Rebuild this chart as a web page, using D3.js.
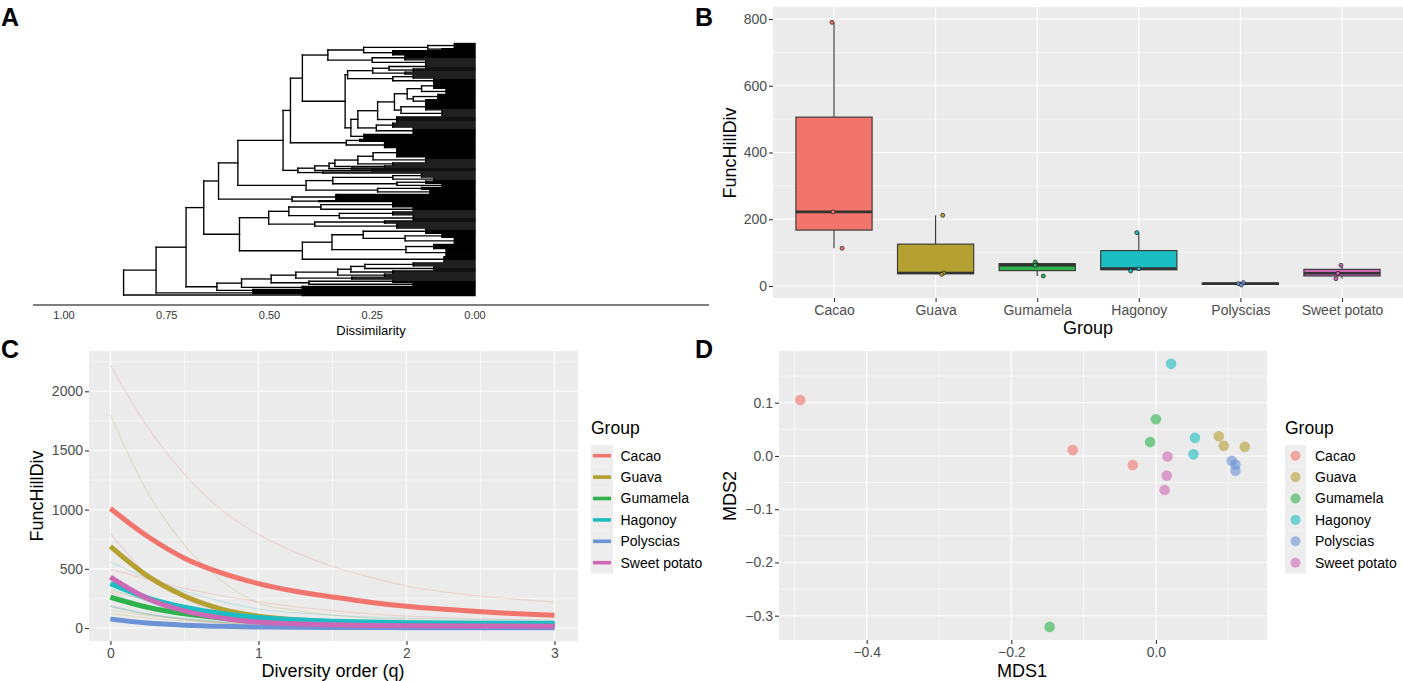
<!DOCTYPE html>
<html><head><meta charset="utf-8">
<script src="https://cdn.jsdelivr.net/npm/d3@7"></script>
<style>
html,body{margin:0;padding:0;background:#fff;}
svg{display:block;font-family:"Liberation Sans",Arial,Helvetica,sans-serif;}
</style></head><body>
<svg id="fig" width="1403" height="681"></svg>
<script>
// ---------------- DATA ----------------
const groups = ["Cacao","Guava","Gumamela","Hagonoy","Polyscias","Sweet potato"];
const groupColors = ["#F2756D","#B5A032","#2EB34C","#1BBEC3","#6B93D6","#CD68B6"];

// Panel A: dendrogram, internal node = [height, upperChild, lowerChild], cluster = [height, leafCount]
const cladeN14 = [0.358, [0.271, [0.115, [0.05, 5], [0.08, 2]], [0.2, 5]], [0.25, [0.17, 5], [0.12, 4]]];
const cladeN16 = [0.31, [0.249, [0.209, [0.12, 4], [0.15, 3]], [0.17, 3]], [0.2, [0.15, 4], [0.1, 4]]];
const cladeN21 = [0.196, [0.165, [0.13, [0.1, 6], [0.07, 5]], [0.15, [0.09, 5], [0.12, 4]]], [0.18, [0.12, 7], [0.08, 6]]];
const cladeN20 = [0.24, [0.2, 5], [0.15, 6]];
const cladeN13 = [0.313, [0.28, 3], [0.22, 6]];
const cladeN11 = [0.431, [0.39, [0.355, [0.341, [0.285, [0.248, [0.19, 9], [0.12, 5]], [0.2, 3]], [0.22, 2]], [0.3, 2]], [0.25, 2]], [0.37, 2]];
const cladeN9  = [0.411, [0.346, [0.2, [0.13, 4], [0.1, 3]], [0.19, [0.12, 3], [0.08, 3]]], [0.237, [0.13, 3], [0.11, 4]]];
const cladeN7  = [0.445, [0.338, 6], [0.38, 2]];
const cladeN5a = [0.502, [0.453, [0.375, [0.2, 5], [0.15, 4]], [0.33, [0.2, 4], [0.15, 5]]], [0.39, [0.22, 3], [0.19, 5]]];
const cladeN5b = [0.42, [0.348, [0.272, [0.12, 5], [0.17, [0.08, 4], [0.05, 6]]], [0.168, [0.1, 5], [0.07, 7]]], [0.075, 6]];
const cladeLow = [0.628, [0.568, [0.496, [0.436, [0.334, [0.302, [0.268, [0.15, 4], [0.1, 4]], [0.2, 3]], [0.22, 3]], [0.3, 3]], [0.404, [0.2, 3], [0.15, 3]]], [0.42, 3]], [0.54, 3]];
const cladeB1 = [0.54, 2];
const cladeB0 = [0.42, 2];
const cladeN19 = [0.237, cladeN21, [0.19, 6]];
const cladeN18 = [0.285, cladeN19, cladeN20];
const cladeN17 = [0.302, cladeN18, [0.27, 5]];
const cladeN15 = [0.316, cladeN16, cladeN17];
const cladeN12 = [0.420, cladeN14, cladeN15];
const cladeN10 = [0.449, cladeN12, cladeN13];
const cladeN8  = [0.467, cladeN10, cladeN11];
const cladeN6  = [0.577, cladeN8, cladeN9];
const cladeN4  = [0.624, cladeN6, cladeN7];
const cladeN5  = [0.573, cladeN5a, cladeN5b];
const cladeN3  = [0.660, cladeN4, cladeN5];
const cladeN2  = [0.703, cladeN3, cladeLow];
const cladeN1  = [0.776, cladeN2, cladeB1];
const dendroRoot = [0.855, cladeN1, cladeB0];
const dissimTicks = [1.00, 0.75, 0.50, 0.25, 0.00];

// Panel B: FuncHillDiv per sample (q = 1)
const funcHillDiv = [[790,222,113],[212,39,35],[72,62,30],[160,52,45],[10,7,3],[62,38,22]];
const jitterB = [[-0.02,-0.01,0.08],[0.07,0.08,0.06],[-0.02,-0.02,0.06],[-0.02,0.0,-0.08],[0.03,-0.02,0.01],[-0.01,-0.04,-0.06]];
const ticksB = [0,200,400,600,800];

// Panel C: diversity profiles
const qOrder = [0,0.25,0.5,0.75,1,1.25,1.5,1.75,2,2.5,3];
const meanCacao    = [1010,775,590,465,375,310,262,218,183,138,107];
const meanGuava    = [690,440,270,160,100,68,50,40,33,25,20];
const meanGumamela = [260,175,120,85,62,50,43,39,37,35,34];
const meanHagonoy  = [375,255,175,122,88,70,58,50,45,40,38];
const meanPolysc   = [75,42,24,14,9,6,4.5,3.5,3,2.5,2];
const meanSweet    = [430,250,145,85,50,35,27,22,20,17,15];
const sampCacao    = [[2220,1700,1300,1000,790,640,520,430,355,270,220],[500,410,335,272,222,180,147,120,100,78,65],[310,240,185,145,113,90,72,60,52,42,36]];
const sampGuava    = [[1800,1150,700,400,212,150,110,85,72,60,52],[150,105,75,52,39,30,23,17,13,8,5],[120,85,60,45,35,26,18,12,8,5,3]];
const sampGumamela = [[330,230,160,108,72,60,53,49,46,44,43],[270,185,128,88,62,52,46,42,40,39,38],[180,115,75,48,30,25,22,20,19,18.5,18]];
const sampHagonoy  = [[560,420,310,225,160,130,108,92,82,70,64],[380,220,130,80,52,44,39,36,34,31,29],[185,120,82,60,45,38,33,30,28,26,25]];
const sampPolysc   = [[90,52,30,17,10,7,5,4,3.5,3,3],[75,42,24,13,7,5,3.5,3,2.5,2,2],[60,30,15,7,3,2,1.5,1.2,1,1,1]];
const sampSweet    = [[800,450,250,125,62,45,36,31,28,25,24],[300,185,115,68,38,29,24,20,18,16,15],[190,120,72,40,22,17,14,12,11,10,9]];
const ticksCx = [0,1,2,3];
const ticksCy = [0,500,1000,1500,2000];

// Panel D: MDS ordination
const mds1 = [[-0.492,-0.115,-0.032],[0.087,0.094,0.123],[0.000,-0.008,-0.147],[0.021,0.054,0.052],[0.105,0.110,0.110],[0.016,0.015,0.012]];
const mds2 = [[0.105,0.011,-0.017],[0.037,0.019,0.017],[0.069,0.026,-0.321],[0.173,0.034,0.003],[-0.009,-0.016,-0.028],[-0.001,-0.037,-0.064]];
const ticksDx = [-0.4,-0.2,0.0];
const ticksDy = [0.1,0.0,-0.1,-0.2,-0.3];

// ---------------- HELPERS ----------------
const svg = d3.select("#fig");
const BG = "#EBEBEB", TICKC = "#333333", LABC = "#4D4D4D";
const fmtMinus = s => s.replace("-", "\u2212");

function panelBg(g, x0, x1, y0, y1){
  g.append("rect").attr("x",x0).attr("y",y0).attr("width",x1-x0).attr("height",y1-y0).attr("fill",BG);
}
function hGrid(g, x0, x1, ys, w){
  ys.forEach(y => g.append("line").attr("x1",x0).attr("x2",x1).attr("y1",y).attr("y2",y).attr("stroke","#fff").attr("stroke-width",w));
}
function vGrid(g, y0, y1, xs, w){
  xs.forEach(x => g.append("line").attr("x1",x).attr("x2",x).attr("y1",y0).attr("y2",y1).attr("stroke","#fff").attr("stroke-width",w));
}
function yAxis(g, x, scale, ticks, fmt){
  const ax = g.append("g").attr("transform",`translate(${x},0)`)
    .call(d3.axisLeft(scale).tickValues(ticks).tickSize(4).tickPadding(2).tickFormat(fmt));
  ax.select(".domain").remove();
  ax.selectAll(".tick line").attr("stroke",TICKC).attr("stroke-width",1.1);
  ax.selectAll(".tick text").attr("fill",LABC).attr("font-size",14).attr("font-family",null);
}
function xAxis(g, y, scale, ticks, fmt){
  const ax = g.append("g").attr("transform",`translate(0,${y})`)
    .call(d3.axisBottom(scale).tickValues(ticks).tickSize(4).tickPadding(3).tickFormat(fmt));
  ax.select(".domain").remove();
  ax.selectAll(".tick line").attr("stroke",TICKC).attr("stroke-width",1.1);
  ax.selectAll(".tick text").attr("fill",LABC).attr("font-size",14).attr("font-family",null);
}
function title(g, text, x, y, rot){
  const t = g.append("text").attr("font-size",18).attr("fill","#000").attr("text-anchor","middle").text(text);
  if(rot) t.attr("transform",`translate(${x},${y}) rotate(-90)`);
  else t.attr("x",x).attr("y",y);
}
function letter(text, x, y){
  svg.append("text").attr("x",x).attr("y",y).attr("font-size",25).attr("font-weight","bold").attr("fill","#000").text(text);
}

// ---------------- PANEL A ----------------
(function(){
  const g = svg.append("g");
  function nLeaves(n){ return n.length === 2 ? n[1] : nLeaves(n[1]) + nLeaves(n[2]); }
  const N = nLeaves(dendroRoot);
  const x = d3.scaleLinear().domain([1,0]).range([64,475]);
  const y = d3.scaleLinear().domain([0,N-1]).range([43.5,295.5]);
  const segs = [];
  let idx = 0;
  function layout(n){
    if(n.length === 2){
      const first = idx;
      for(let k=0;k<n[1];k++){ segs.push([x(n[0]), y(idx), x(0), y(idx)]); idx++; }
      const last = idx-1;
      if(last>first) segs.push([x(n[0]), y(first), x(n[0]), y(last)]);
      return {h:n[0], y:(y(first)+y(last))/2};
    }
    const a = layout(n[1]), b = layout(n[2]);
    const xh = x(n[0]);
    segs.push([xh, a.y, xh, b.y]);
    segs.push([xh, a.y, x(a.h), a.y]);
    segs.push([xh, b.y, x(b.h), b.y]);
    return {h:n[0], y:(a.y+b.y)/2};
  }
  layout(dendroRoot);
  g.selectAll("line.seg").data(segs).enter().append("line")
    .attr("x1",d=>d[0]).attr("y1",d=>d[1]).attr("x2",d=>d[2]).attr("y2",d=>d[3])
    .attr("stroke","#000").attr("stroke-width",1.35).attr("stroke-linecap","square");
  g.append("line").attr("x1",33).attr("x2",709).attr("y1",305).attr("y2",305).attr("stroke","#000").attr("stroke-width",1.2);
  dissimTicks.forEach(t => g.append("text").attr("x",x(t)).attr("y",319).attr("text-anchor","middle")
    .attr("font-size",11).attr("fill","#333").text(t.toFixed(2)));
  g.append("text").attr("x",371).attr("y",335).attr("text-anchor","middle").attr("font-size",13).attr("fill","#000").text("Dissimilarity");
})();

// ---------------- PANEL B ----------------
(function(){
  const g = svg.append("g");
  const X0=773, X1=1403, Y0=7, Y1=298;
  const x = d3.scalePoint().domain(groups).range([834,1342]);
  const y = d3.scaleLinear().domain([0,800]).range([286,19]);
  const step = x.step();
  panelBg(g,X0,X1,Y0,Y1);
  hGrid(g,X0,X1,[100,300,500,700].map(y),0.55);
  hGrid(g,X0,X1,ticksB.map(y),1.1);
  vGrid(g,Y0,Y1,groups.map(x),1.1);
  const bw = step*0.75;
  groups.forEach((grp,i)=>{
    const v = funcHillDiv[i].slice().sort(d3.ascending);
    const q1 = d3.quantile(v,0.25), med = d3.quantile(v,0.5), q3 = d3.quantile(v,0.75);
    const iqr = q3-q1;
    const lo = d3.min(v.filter(d=>d>=q1-1.5*iqr)), hi = d3.max(v.filter(d=>d<=q3+1.5*iqr));
    const cx = x(grp);
    g.append("line").attr("x1",cx).attr("x2",cx).attr("y1",y(hi)).attr("y2",y(q3)).attr("stroke","#333").attr("stroke-width",1.1);
    g.append("line").attr("x1",cx).attr("x2",cx).attr("y1",y(q1)).attr("y2",y(lo)).attr("stroke","#333").attr("stroke-width",1.1);
    g.append("rect").attr("x",cx-bw/2).attr("width",bw).attr("y",y(q3)).attr("height",Math.max(0.5,y(q1)-y(q3)))
      .attr("fill",groupColors[i]).attr("stroke","#333").attr("stroke-width",1.1);
    g.append("line").attr("x1",cx-bw/2).attr("x2",cx+bw/2).attr("y1",y(med)).attr("y2",y(med)).attr("stroke","#333").attr("stroke-width",2.6);
  });
  groups.forEach((grp,i)=>{
    funcHillDiv[i].forEach((d,j)=>{
      g.append("circle").attr("cx",x(grp)+jitterB[i][j]*step).attr("cy",y(d)).attr("r",2)
        .attr("fill",groupColors[i]).attr("stroke","#1a1a1a").attr("stroke-width",0.7);
    });
  });
  yAxis(g,X0,y,ticksB,d3.format("d"));
  xAxis(g,Y1,x,groups,d=>d);
  title(g,"Group",1088,334,false);
  title(g,"FuncHillDiv",736,153,true);
})();

// ---------------- PANEL C ----------------
(function(){
  const g = svg.append("g");
  const X0=89, X1=578, Y0=351, Y1=641;
  const x = d3.scaleLinear().domain([0,3]).range([110.4,554.5]);
  const y = d3.scaleLinear().domain([0,2000]).range([628,391.3]);
  panelBg(g,X0,X1,Y0,Y1);
  hGrid(g,X0,X1,[250,750,1250,1750,2250].map(y),0.55);
  hGrid(g,X0,X1,ticksCy.map(y),1.1);
  vGrid(g,Y0,Y1,[0.5,1.5,2.5].map(x),0.55);
  vGrid(g,Y0,Y1,ticksCx.map(x),1.1);
  const line = d3.line().x((d,k)=>x(qOrder[k])).y(d=>y(d)).curve(d3.curveMonotoneX);
  const samples = [sampCacao,sampGuava,sampGumamela,sampHagonoy,sampPolysc,sampSweet];
  const means = [meanCacao,meanGuava,meanGumamela,meanHagonoy,meanPolysc,meanSweet];
  samples.forEach((s,i)=> s.forEach(vals=>{
    g.append("path").attr("d",line(vals)).attr("fill","none").attr("stroke",groupColors[i]).attr("stroke-opacity",0.22).attr("stroke-width",1.1);
  }));
  means.forEach((vals,i)=>{
    g.append("path").attr("d",line(vals)).attr("fill","none").attr("stroke",groupColors[i]).attr("stroke-width",5).attr("stroke-linecap","butt");
  });
  yAxis(g,X0,y,ticksCy,d3.format("d"));
  xAxis(g,Y1,x,ticksCx,d3.format("d"));
  title(g,"Diversity order (q)",333,677,false);
  title(g,"FuncHillDiv",43,496,true);
  const L = g.append("g");
  L.append("text").attr("x",591).attr("y",434).attr("font-size",17.5).attr("fill","#000").text("Group");
  groups.forEach((grp,i)=>{
    const ky = 445 + i*21.4;
    L.append("rect").attr("x",591).attr("y",ky).attr("width",22).attr("height",21.4).attr("fill","#EDEDED");
    L.append("line").attr("x1",593).attr("x2",611).attr("y1",ky+10.7).attr("y2",ky+10.7).attr("stroke",groupColors[i]).attr("stroke-width",3.6);
    L.append("text").attr("x",620.5).attr("y",ky+15.5).attr("font-size",14).attr("fill","#000").text(grp);
  });
})();

// ---------------- PANEL D ----------------
(function(){
  const g = svg.append("g");
  const X0=779, X1=1267, Y0=351, Y1=640;
  const x = d3.scaleLinear().domain([-0.4,0]).range([866.7,1155.9]);
  const y = d3.scaleLinear().domain([-0.3,0.1]).range([615.7,402.7]);
  panelBg(g,X0,X1,Y0,Y1);
  hGrid(g,X0,X1,[0.15,0.05,-0.05,-0.15,-0.25].map(y),0.55);
  hGrid(g,X0,X1,ticksDy.map(y),1.1);
  vGrid(g,Y0,Y1,[-0.5,-0.3,-0.1,0.1].map(x),0.55);
  vGrid(g,Y0,Y1,ticksDx.map(x),1.1);
  groups.forEach((grp,i)=>{
    mds1[i].forEach((mx,j)=>{
      g.append("circle").attr("cx",x(mx)).attr("cy",y(mds2[i][j])).attr("r",5.3)
        .attr("fill",groupColors[i]).attr("fill-opacity",0.6);
    });
  });
  yAxis(g,X0,y,ticksDy,d=>fmtMinus(d3.format(".1f")(d)));
  xAxis(g,Y1,x,ticksDx,d=>fmtMinus(d3.format(".1f")(d)));
  title(g,"MDS1",1022,677,false);
  title(g,"MDS2",736,496,true);
  const L = g.append("g");
  L.append("text").attr("x",1285).attr("y",434).attr("font-size",17.5).attr("fill","#000").text("Group");
  groups.forEach((grp,i)=>{
    const ky = 445 + i*21.4;
    L.append("rect").attr("x",1285).attr("y",ky).attr("width",21).attr("height",21.4).attr("fill","#EDEDED");
    L.append("circle").attr("cx",1295.5).attr("cy",ky+10.7).attr("r",5).attr("fill",groupColors[i]).attr("fill-opacity",0.6);
    L.append("text").attr("x",1315).attr("y",ky+15.5).attr("font-size",14).attr("fill","#000").text(grp);
  });
})();

letter("A",1,26);
letter("B",695,26);
letter("C",1,358);
letter("D",695,358);
</script></body></html>
